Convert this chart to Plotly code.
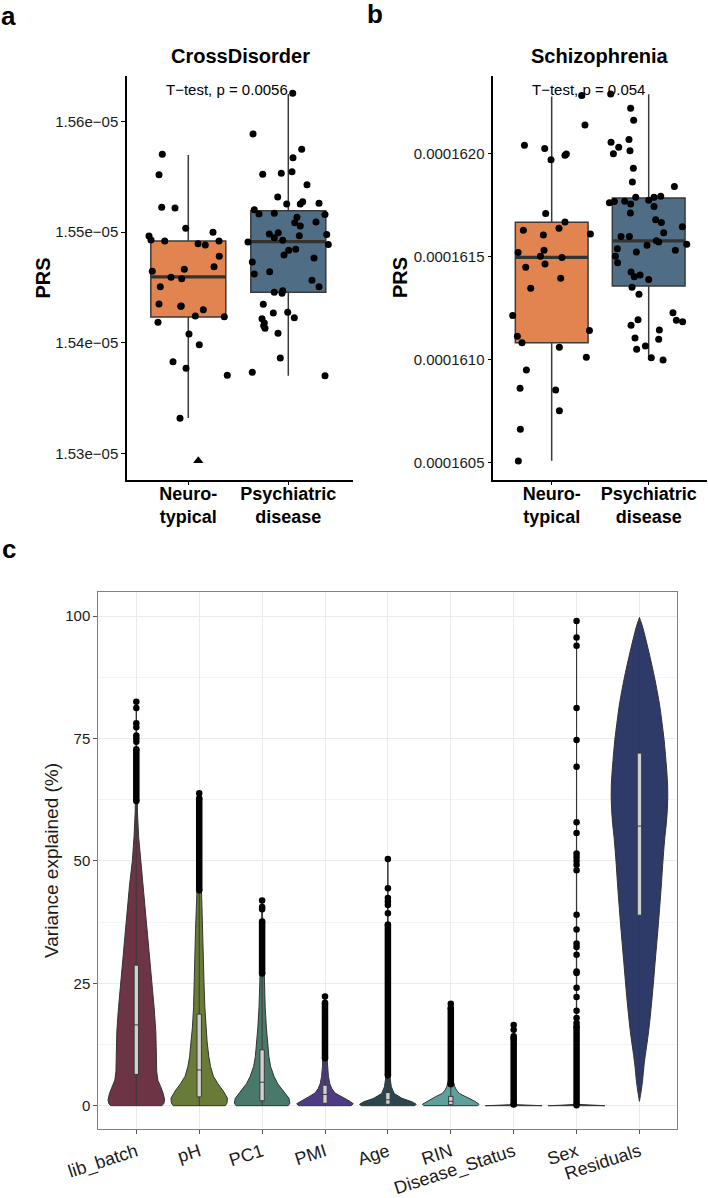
import plotly.graph_objects as go

# ======================= DATA =======================
# ---- panels a & b : groups ----
groups = ["Neuro-typical", "Psychiatric disease"]
group_ticktext = ["Neuro-<br>typical", "Psychiatric<br>disease"]
group_colors = ["#E2844F", "#4F6E86"]

# ---- panel a : CrossDisorder PRS ----
cd_neuro = [1.55704e-05, 1.55520e-05, 1.55225e-05, 1.55219e-05, 1.55035e-05, 1.54966e-05,
            1.54929e-05, 1.54920e-05, 1.54896e-05, 1.54884e-05, 1.54999e-05, 1.54920e-05,
            1.54782e-05, 1.54688e-05, 1.54646e-05, 1.54665e-05, 1.54592e-05, 1.54580e-05,
            1.54507e-05, 1.54351e-05, 1.54330e-05, 1.54333e-05, 1.54299e-05, 1.54242e-05,
            1.54236e-05, 1.54185e-05, 1.54080e-05, 1.53983e-05, 1.53829e-05, 1.53769e-05,
            1.53706e-05, 1.53318e-05]
cd_neuro_jit = [-0.260, -0.293, -0.266, -0.133, -0.026, -0.393, -0.373, -0.236, 0.097, 0.170,
                0.247, 0.307, 0.310, 0.257, -0.360, -0.040, -0.173, -0.066, -0.280, -0.293,
                -0.076, -0.070, 0.150, 0.070, 0.360, -0.303, 0.007, 0.110, -0.153, -0.023,
                0.390, -0.083]
cd_psych = [1.55888e-05, 1.55523e-05, 1.55533e-05, 1.55750e-05, 1.55674e-05, 1.55547e-05,
            1.55429e-05, 1.55318e-05, 1.55203e-05, 1.55255e-05, 1.55255e-05, 1.55276e-05,
            1.55261e-05, 1.55165e-05, 1.55171e-05, 1.55135e-05, 1.55086e-05, 1.55056e-05,
            1.55092e-05, 1.54984e-05, 1.54995e-05, 1.54950e-05, 1.54927e-05, 1.54968e-05,
            1.54911e-05, 1.54845e-05, 1.54836e-05, 1.54794e-05, 1.54731e-05, 1.54643e-05,
            1.54622e-05, 1.54565e-05, 1.54507e-05, 1.54457e-05, 1.54471e-05, 1.54448e-05,
            1.54348e-05, 1.54269e-05, 1.54276e-05, 1.54227e-05, 1.54218e-05, 1.54179e-05,
            1.54131e-05, 1.54155e-05, 1.54086e-05, 1.53863e-05, 1.53733e-05, 1.55159e-05,
            1.54978e-05, 1.54888e-05, 1.54767e-05, 1.53703e-05, 1.56256e-05]
cd_psych_jit = [-0.353, -0.256, -0.070, 0.134, 0.047, 0.037, 0.187, -0.106, -0.340, -0.016,
                0.120, 0.144, 0.307, -0.293, -0.140, 0.087, 0.064, 0.120, 0.277, -0.190,
                -0.100, -0.140, -0.056, 0.110, -0.403, 0.074, 0.004, -0.043, -0.360, -0.186,
                -0.340, 0.237, 0.307, -0.140, -0.056, -0.063, -0.250, -0.150, -0.006, 0.060,
                -0.263, -0.240, -0.233, -0.246, -0.103, -0.080, -0.360, 0.367, 0.384, 0.400,
                0.257, 0.367, 0.044]
cd_neuro_tri = [1.52934e-05]
cd_neuro_tri_jit = [0.10]
cd_q1 = [1.54233e-05, 1.54456e-05]
cd_med = [1.54595e-05, 1.54914e-05]
cd_q3 = [1.54920e-05, 1.55194e-05]
cd_lo = [1.53321e-05, 1.53703e-05]
cd_hi = [1.55698e-05, 1.56250e-05]
cd_ticks = [1.53e-05, 1.54e-05, 1.55e-05, 1.56e-05]
cd_ticktext = ["1.53e\u221205", "1.54e\u221205", "1.55e\u221205", "1.56e\u221205"]
cd_test = "T\u2212test, p = 0.0056"

# ---- panel b : Schizophrenia PRS ----
scz_neuro = [1.62042e-04, 1.62026e-04, 1.61972e-04, 1.61994e-04, 1.62000e-04, 1.61710e-04,
             1.61669e-04, 1.61639e-04, 1.61629e-04, 1.61606e-04, 1.61611e-04, 1.61520e-04,
             1.61532e-04, 1.61502e-04, 1.61496e-04, 1.61465e-04, 1.61449e-04, 1.61395e-04,
             1.61347e-04, 1.61214e-04, 1.61113e-04, 1.61082e-04, 1.61141e-04, 1.61060e-04,
             1.61011e-04, 1.60949e-04, 1.60860e-04, 1.60852e-04, 1.60751e-04, 1.60661e-04,
             1.60506e-04, 1.62284e-04, 1.62141e-04]
scz_neuro_jit = [-0.281, -0.072, -0.007, 0.137, 0.151, -0.062, 0.137, 0.075, -0.292, -0.086,
                 0.399, -0.346, -0.079, -0.116, 0.106, -0.069, -0.268, 0.093, -0.216, -0.402,
                 -0.354, -0.306, 0.389, 0.079, 0.357, -0.261, -0.326, 0.041, 0.079, -0.323,
                 -0.344, 0.309, 0.343]
scz_psych = [1.62292e-04, 1.62222e-04, 1.62164e-04, 1.62057e-04, 1.62070e-04, 1.62033e-04,
             1.62001e-04, 1.62016e-04, 1.61930e-04, 1.61864e-04, 1.61841e-04, 1.61789e-04,
             1.61789e-04, 1.61794e-04, 1.61763e-04, 1.61768e-04, 1.61770e-04, 1.61757e-04,
             1.61775e-04, 1.61744e-04, 1.61713e-04, 1.61680e-04, 1.61666e-04, 1.61646e-04,
             1.61617e-04, 1.61598e-04, 1.61598e-04, 1.61578e-04, 1.61572e-04, 1.61561e-04,
             1.61556e-04, 1.61539e-04, 1.61523e-04, 1.61532e-04, 1.61502e-04, 1.61471e-04,
             1.61426e-04, 1.61403e-04, 1.61411e-04, 1.61389e-04, 1.61352e-04, 1.61318e-04,
             1.61227e-04, 1.61191e-04, 1.61184e-04, 1.61194e-04, 1.61167e-04, 1.61144e-04,
             1.61099e-04, 1.61105e-04, 1.61066e-04, 1.61050e-04, 1.61009e-04, 1.60998e-04]
scz_psych_jit = [-0.392, -0.186, -0.155, -0.388, -0.203, -0.309, -0.364, -0.193, -0.158, -0.168,
                 0.265, -0.134, 0.055, 0.124, -0.405, -0.354, -0.247, -0.186, 0.000, 0.055,
                 -0.189, 0.072, 0.131, 0.347, 0.155, -0.285, -0.199, 0.079, 0.103, 0.392,
                 -0.017, -0.323, -0.127, 0.275, -0.343, -0.320, -0.182, -0.148, -0.089, 0.000,
                 -0.172, -0.100, 0.250, 0.285, 0.350, -0.110, -0.182, 0.110, 0.103, -0.141,
                 -0.034, -0.124, 0.027, 0.148]
scz_q1 = [1.61082e-04, 1.61358e-04]
scz_med = [1.61497e-04, 1.61577e-04]
scz_q3 = [1.61668e-04, 1.61786e-04]
scz_lo = [1.60508e-04, 1.60998e-04]
scz_hi = [1.62279e-04, 1.62290e-04]
scz_ticks = [1.605e-04, 1.610e-04, 1.615e-04, 1.620e-04]
scz_ticktext = ["0.0001605", "0.0001610", "0.0001615", "0.0001620"]
scz_test = "T\u2212test, p = 0.054"

# ---- panel c : variance partition ----
variables = ["lib_batch", "pH", "PC1", "PMI", "Age", "RIN", "Disease_Status", "Sex", "Residuals"]
var_colors = ["#6C3444", "#687B37", "#49796A", "#4E3B82", "#2C4650", "#5F9F9C", "#47707A", "#34414C", "#2E3B69"]

# violin density profiles: level (% variance) and relative half-width
lib_batch_lv = [0, 0.4, 1.2, 2.5, 3.9, 5.2, 7, 10, 15, 20, 25, 30, 35, 40, 45, 50, 55, 60, 65, 70, 75, 80, 82.5]
lib_batch_w = [0.90, 0.97, 1.0, 0.95, 0.86, 0.76, 0.72, 0.70, 0.69, 0.63, 0.55, 0.47, 0.40, 0.32, 0.24, 0.14, 0.08, 0.04, 0.02, 0.015, 0.012, 0.008, 0]
pH_lv = [0, 0.5, 1.5, 3, 4.5, 6, 8, 10, 13, 16, 20, 25, 30, 36, 42, 48, 55, 63.8]
pH_w = [0.92, 0.98, 1.0, 0.85, 0.66, 0.50, 0.40, 0.34, 0.28, 0.24, 0.20, 0.17, 0.15, 0.13, 0.09, 0.05, 0.025, 0]
PC1_lv = [0, 0.5, 1.5, 3, 4.5, 6, 8, 10, 13, 16, 20, 25, 30, 35, 42]
PC1_w = [0.92, 0.98, 0.95, 0.75, 0.55, 0.42, 0.30, 0.24, 0.19, 0.15, 0.11, 0.08, 0.05, 0.03, 0]
PMI_lv = [0, 0.4, 1, 1.8, 2.6, 3.5, 4.5, 6, 8, 10, 13, 17, 22.3]
PMI_w = [0.92, 1.0, 0.85, 0.58, 0.35, 0.24, 0.17, 0.12, 0.09, 0.07, 0.05, 0.03, 0]
Age_lv = [0, 0.3, 0.8, 1.5, 2.5, 3.9, 6, 9, 14, 20, 30, 40, 50.4]
Age_w = [0.95, 1.0, 0.85, 0.50, 0.22, 0.12, 0.07, 0.04, 0.025, 0.015, 0.01, 0.006, 0]
RIN_lv = [0, 0.3, 0.9, 1.8, 2.5, 3.2, 3.9, 5, 7, 10, 14, 20.8]
RIN_w = [0.95, 1.0, 0.85, 0.55, 0.30, 0.20, 0.14, 0.09, 0.05, 0.03, 0.015, 0]
Disease_Status_lv = [0, 0.08, 0.2, 0.4, 1, 5, 16.5]
Disease_Status_w = [1.0, 0.6, 0.15, 0.04, 0.01, 0.004, 0]
Sex_lv = [0, 0.1, 0.25, 0.5, 1.5, 5, 20, 50, 99.0]
Sex_w = [1.0, 0.55, 0.12, 0.03, 0.01, 0.005, 0.003, 0.002, 0]
Residuals_lv = [0.9, 3, 5.2, 8.7, 15.5, 22.3, 29.1, 36.5, 44.0, 50.8, 55.0, 57.7, 60.5, 63.1, 65.5,
                67.9, 70.5, 74.7, 78.0, 81.5, 84.5, 87.5, 91.7, 95.1, 98, 99.7]
Residuals_w = [0, 0.06, 0.11, 0.17, 0.33, 0.45, 0.55, 0.66, 0.76, 0.84, 0.90, 0.95, 0.985, 1.0, 0.995,
               0.97, 0.935, 0.87, 0.80, 0.72, 0.63, 0.53, 0.37, 0.23, 0.10, 0]

# box statistics
vp_q1 = [6.4, 1.8, 1.0, 0.5, 0.3, 0.2, 0.0, 0.0, 38.9]
vp_med = [16.5, 7.3, 4.8, 2.3, 1.2, 0.9, 0.02, 0.01, 57.1]
vp_q3 = [28.7, 18.7, 11.4, 4.2, 2.7, 1.9, 0.1, 0.05, 72.0]
vp_lo = [0, 0, 0, 0, 0, 0, 0, 0, 0.9]
vp_hi = [62.2, 44.0, 27.0, 9.7, 6.2, 4.4, 0.25, 0.1, 99.7]

# outliers: dense (overlapping) runs and separate points
dense_lo = [62.2, 44.0, 27.0, 9.7, 6.2, 4.4, 0.25, 0.1, None]
dense_hi = [72.8, 62.8, 37.6, 21.0, 37.0, 20.0, 13.8, 16.2, None]
lib_batch_out = [74.3, 75.0, 75.6, 77.3, 78.1, 81.2, 82.5]
pH_out = [63.8]
PC1_out = [40.1, 40.6, 41.9]
PMI_out = [22.3]
Age_out = [39.3, 41.0, 41.7, 42.4, 44.4, 50.4]
RIN_out = [20.8]
Disease_Status_out = [14.2, 15.5, 16.5]
Sex_out = [16.9, 17.9, 19.4, 22.2, 24.1, 27.1, 27.4, 30.8, 32.4, 33.1, 36.0, 39.0, 48.1, 49.2,
           50.0, 50.8, 51.5, 55.7, 57.9, 69.2, 74.7, 81.2, 93.9, 95.6, 99.0]
Residuals_out = []
vp_yticks = [0, 25, 50, 75, 100]

# ======================= FIGURE =======================
W, H = 708, 1198
FONT = "Liberation Sans, Arial, Helvetica, sans-serif"


def dom_x(a, b):
    return [a / W, b / W]


def dom_y(top, bottom):
    return [1 - bottom / H, 1 - top / H]


fig = go.Figure()


def prs_panel(xa, ya, vals, jits, q1, med, q3, lo, hi):
    for gi in range(2):
        fig.add_trace(go.Box(
            x=[gi], q1=[q1[gi]], median=[med[gi]], q3=[q3[gi]],
            lowerfence=[lo[gi]], upperfence=[hi[gi]], width=0.75, whiskerwidth=0,
            fillcolor=group_colors[gi], line=dict(color="#3A3A3A", width=1.5),
            boxpoints=False, xaxis=xa, yaxis=ya, showlegend=False, hoverinfo="skip"))
    for gi in range(2):
        fig.add_trace(go.Scatter(
            x=[gi - 0.375, gi + 0.375], y=[med[gi], med[gi]], mode="lines",
            line=dict(color="#333333", width=3.2), xaxis=xa, yaxis=ya,
            showlegend=False, hoverinfo="skip"))
    for gi in range(2):
        fig.add_trace(go.Scatter(
            x=[gi + j for j in jits[gi]], y=vals[gi], mode="markers",
            marker=dict(size=7, color="black"), xaxis=xa, yaxis=ya,
            showlegend=False, hoverinfo="skip"))


prs_panel("x", "y", [cd_neuro, cd_psych], [cd_neuro_jit, cd_psych_jit],
          cd_q1, cd_med, cd_q3, cd_lo, cd_hi)
fig.add_trace(go.Scatter(
    x=[0 + j for j in cd_neuro_tri_jit], y=cd_neuro_tri, mode="markers",
    marker=dict(size=9, color="black", symbol="triangle-up"),
    xaxis="x", yaxis="y", showlegend=False, hoverinfo="skip"))
prs_panel("x2", "y2", [scz_neuro, scz_psych], [scz_neuro_jit, scz_psych_jit],
          scz_q1, scz_med, scz_q3, scz_lo, scz_hi)

# ---- panel c violins ----
vio_lv = [lib_batch_lv, pH_lv, PC1_lv, PMI_lv, Age_lv, RIN_lv, Disease_Status_lv, Sex_lv, Residuals_lv]
vio_w = [lib_batch_w, pH_w, PC1_w, PMI_w, Age_w, RIN_w, Disease_Status_w, Sex_w, Residuals_w]
outs = [lib_batch_out, pH_out, PC1_out, PMI_out, Age_out, RIN_out, Disease_Status_out, Sex_out, Residuals_out]
HALF = 0.45
for i in range(len(variables)):
    lv, w = vio_lv[i], vio_w[i]
    xs = [i + HALF * v for v in w] + [i - HALF * v for v in reversed(w)]
    ys = list(lv) + list(reversed(lv))
    pointed = w[0] == 0  # violin closes to a tip at its minimum -> smooth outline
    fig.add_trace(go.Scatter(
        x=xs + [xs[0]], y=ys + [ys[0]], mode="lines", fill="toself",
        fillcolor=var_colors[i],
        line=dict(color="#333333", width=1, shape="spline" if pointed else "linear", smoothing=1.0),
        xaxis="x3", yaxis="y3", showlegend=False, hoverinfo="skip"))

# boxes + outliers on an overlaying subplot so they sit above the violins
for i in range(len(variables)):
    fig.add_trace(go.Box(
        x=[i], q1=[vp_q1[i]], median=[vp_med[i]], q3=[vp_q3[i]],
        lowerfence=[vp_lo[i]], upperfence=[vp_hi[i]], width=0.07, whiskerwidth=0,
        fillcolor="#D0D0D0", line=dict(color="#3A3A3A", width=1),
        boxpoints=False, xaxis="x4", yaxis="y4", showlegend=False, hoverinfo="skip"))
for i in range(len(variables)):
    if dense_lo[i] is not None:
        fig.add_trace(go.Scatter(
            x=[i, i], y=[dense_lo[i], dense_hi[i]], mode="lines+markers",
            line=dict(color="black", width=6.5), marker=dict(size=6.5, color="black"),
            xaxis="x4", yaxis="y4", showlegend=False, hoverinfo="skip"))
    if outs[i]:
        fig.add_trace(go.Scatter(
            x=[i] * len(outs[i]), y=outs[i], mode="markers",
            marker=dict(size=6.5, color="black"),
            xaxis="x4", yaxis="y4", showlegend=False, hoverinfo="skip"))

# ======================= LAYOUT =======================
axis_common = dict(showgrid=False, zeroline=False, showline=True, linecolor="black",
                   linewidth=1.5, ticks="outside", ticklen=4, tickcolor="black", tickwidth=1.2,
                   automargin=False)
x_cat = dict(tickvals=[0, 1], ticktext=group_ticktext, ticklabelstandoff=-7,
             tickfont=dict(family=FONT, size=18, color="black", weight="bold"))

prs_y_range_a = [1.52763e-05, 1.56412e-05]
prs_y_range_b = [1.60416e-04, 1.62379e-04]
vp_x_range = [-0.603, 8.60]
vp_y_range = [-4.82, 104.84]

fig.update_layout(
    width=W, height=H, autosize=False,
    margin=dict(l=0, r=0, t=0, b=0, pad=0, autoexpand=False),
    paper_bgcolor="white", plot_bgcolor="white", boxmode="overlay",
    font=dict(family=FONT, color="#1A1A1A"),
    xaxis=dict(domain=dom_x(127, 353), range=[-0.613, 1.647], anchor="y", **axis_common, **x_cat),
    yaxis=dict(domain=dom_y(76, 479.6), range=prs_y_range_a, anchor="x",
               tickvals=cd_ticks, ticktext=cd_ticktext,
               tickfont=dict(family=FONT, size=15, color="#1A1A1A"), **axis_common),
    xaxis2=dict(domain=dom_x(493.3, 706.7), range=[-0.602, 1.598], anchor="y2", **axis_common, **x_cat),
    yaxis2=dict(domain=dom_y(76, 479.6), range=prs_y_range_b, anchor="x2",
                tickvals=scz_ticks, ticktext=scz_ticktext,
                tickfont=dict(family=FONT, size=15, color="#1A1A1A"), **axis_common),
    xaxis3=dict(domain=dom_x(98.4, 677.2), range=vp_x_range, anchor="y3",
                tickvals=list(range(len(variables))), ticktext=variables, tickangle=-18,
                tickfont=dict(family=FONT, size=18, color="#1A1A1A"),
                showgrid=True, gridcolor="#EBEBEB", gridwidth=1, zeroline=False,
                showline=True, mirror=True, linecolor="#808080", linewidth=1.2,
                ticks="outside", ticklen=4, tickcolor="#555555", automargin=False),
    yaxis3=dict(domain=dom_y(592.3, 1129.3), range=vp_y_range, anchor="x3",
                tickvals=vp_yticks, tickfont=dict(family=FONT, size=15, color="#1A1A1A"),
                showgrid=True, gridcolor="#EBEBEB", gridwidth=1, zeroline=False,
                minor=dict(tickvals=[12.5, 37.5, 62.5, 87.5], showgrid=True,
                           gridcolor="#F3F3F3", gridwidth=0.7, ticks=""),
                showline=True, mirror=True, linecolor="#808080", linewidth=1.2,
                ticks="outside", ticklen=4, tickcolor="#555555", automargin=False),
    xaxis4=dict(overlaying="x3", range=vp_x_range, visible=False, anchor="y4", automargin=False),
    yaxis4=dict(overlaying="y3", range=vp_y_range, visible=False, anchor="x4", automargin=False),
)

ann = []


def label(text, x, y, size, bold=True, angle=0, color="black"):
    ann.append(dict(text=text, x=x / W, y=1 - y / H, xref="paper", yref="paper",
                    showarrow=False, xanchor="center", yanchor="middle", textangle=angle,
                    font=dict(family=FONT, size=size, color=color,
                              weight="bold" if bold else "normal")))


label("a", 8.5, 16, 26)
label("b", 374.5, 14.5, 26)
label("c", 9, 549, 26)
label("CrossDisorder", 240, 55.5, 20)
label("Schizophrenia", 600, 55.5, 20)
label("PRS", 42.5, 278, 20, angle=-90)
label("PRS", 400, 278, 20, angle=-90)
label("Variance explained (%)", 51, 861, 19, bold=False, angle=-90, color="#1A1A1A")

ann.append(dict(text=cd_test, x=-0.243, y=1.56292e-05, xref="x", yref="y", showarrow=False,
                xanchor="left", yanchor="middle", font=dict(family=FONT, size=15, color="black")))
ann.append(dict(text=scz_test, x=-0.227, y=1.623147e-04, xref="x2", yref="y2", showarrow=False,
                xanchor="left", yanchor="middle", font=dict(family=FONT, size=15, color="black")))
fig.update_layout(annotations=ann)

fig.write_html("out.html", config={"displayModeBar": False},
               post_script="document.body.style.margin='0px';document.body.style.overflow='hidden';")
